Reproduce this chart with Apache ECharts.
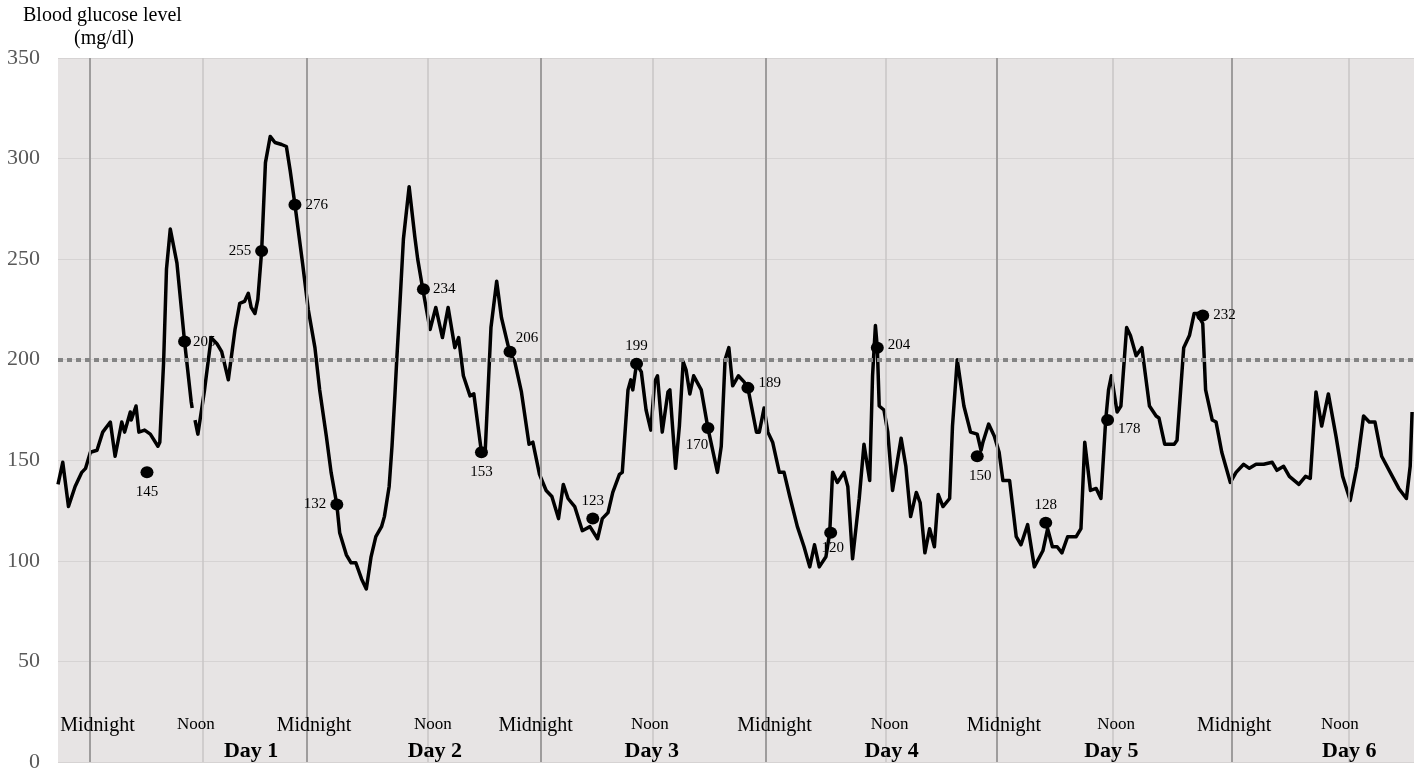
<!DOCTYPE html>
<html>
<head>
<meta charset="utf-8">
<script src="https://cdn.jsdelivr.net/npm/echarts@6/dist/echarts.min.js"></script>
<style>
html,body{margin:0;padding:0;background:#fff;}
#chart{width:1418px;height:773px;}
</style>
</head>
<body>
<div id="chart"></div>
<script>
// ---- DATA ----
// time in hours from start of recording, glucose in mg/dl (null = gap in trace)
const traceReadings = [
[0.0,138],[0.5,149],[1.1,127],[1.8,137],[2.5,144],[2.9,146],[3.4,154],[4.1,155],[4.7,164],[5.5,169],
[6.0,152],[6.7,169],[7.0,164],[7.6,174],[7.7,170],[8.2,177],[8.5,164],[9.1,165],[9.7,163],[10.5,157],
[10.7,159],[11.1,199],[11.4,245],[11.8,265],[12.5,248],[13.3,209],[14.0,179],[14.1,176],[14.25,null],[14.4,170],
[14.7,163],[15.4,185],[16.1,211],[16.7,208],[17.2,204],[17.9,190],[18.6,215],[19.1,228],[19.6,229],[20.0,233],
[20.3,226],[20.7,223],[21.0,230],[21.4,254],[21.8,298],[22.3,311],[22.8,308],[23.5,307],[24.0,306],[24.4,294],
[24.9,277],[25.7,248],[26.3,225],[27.0,206],[27.5,185],[28.2,162],[28.7,144],[29.3,128],[29.6,114],[30.3,103],
[30.8,99],[31.3,99],[31.9,91],[32.4,86],[32.9,102],[33.4,112],[34.0,117],[34.3,122],[34.8,137],[35.1,157],
[35.4,182],[35.6,200],[35.9,225],[36.3,260],[36.9,286],[37.5,261],[37.8,250],[38.3,236],[39.1,215],[39.7,226],
[40.4,211],[41.0,226],[41.7,206],[42.1,211],[42.6,192],[43.3,182],[43.7,183],[44.5,154],[44.9,155],[45.5,216],
[46.1,239],[46.6,221],[47.5,203],[48.0,199],[48.7,184],[49.5,158],[49.9,159],[50.6,143],[51.3,135],[51.9,132],
[52.6,121],[53.1,138],[53.6,131],[54.3,127],[55.1,115],[55.9,117],[56.7,111],[57.2,121],[57.8,124],[58.3,134],
[59.0,143],[59.3,144],[59.9,185],[60.2,190],[60.4,185],[60.8,198],[61.3,194],[61.8,175],[62.3,165],[62.7,189],
[63.0,192],[63.5,164],[64.1,184],[64.3,185],[64.9,146],[65.3,167],[65.7,199],[66.0,195],[66.4,183],[66.8,192],
[67.6,185],[68.3,166],[69.3,144],[69.7,157],[70.1,200],[70.5,206],[70.9,187],[71.5,192],[72.1,189],[72.5,186],
[73.4,164],[73.7,164],[74.2,176],[74.6,164],[75.1,159],[75.8,144],[76.3,144],[76.9,132],[77.7,117],[78.4,107],
[79.0,97],[79.5,108],[80.0,97],[80.7,102],[81.1,114],[81.4,144],[81.9,139],[82.6,144],[83.0,137],[83.5,101],
[84.2,131],[84.7,158],[85.3,140],[85.6,192],[85.9,217],[86.1,206],[86.3,177],[86.8,175],[87.2,164],[87.7,135],
[88.6,161],[89.1,147],[89.6,122],[90.2,134],[90.6,129],[91.1,104],[91.6,116],[92.1,107],[92.5,133],[93.0,127],
[93.7,131],[94.0,167],[94.5,200],[95.2,177],[95.9,164],[96.6,163],[97.0,155],[97.2,159],[97.8,168],[98.4,162],
[98.9,154],[99.3,140],[100.0,140],[100.7,112],[101.2,108],[101.9,118],[102.6,97],[103.5,105],[104.0,116],[104.5,107],
[105.0,107],[105.5,104],[106.1,112],[107.0,112],[107.5,116],[107.9,159],[108.5,135],[109.1,136],[109.6,131],[110.1,170],
[110.4,185],[110.7,192],[111.3,174],[111.7,177],[112.3,216],[112.7,212],[113.3,202],[113.9,206],[114.7,177],[115.4,172],
[115.7,171],[116.3,158],[117.3,158],[117.6,160],[118.3,206],[118.9,212],[119.4,223],[119.7,223],[120.3,218],[120.6,185],
[121.3,170],[121.7,169],[122.3,154],[123.2,139],[123.8,144],[124.6,148],[125.2,146],[125.9,148],[126.7,148],[127.6,149],
[128.1,145],[128.8,147],[129.4,142],[130.4,138],[131.1,142],[131.6,141],[132.2,184],[132.8,167],[133.5,183],[134.3,162],
[135.0,142],[135.8,130],[136.5,147],[137.2,172],[137.8,169],[138.4,169],[139.1,152],[140.0,144],[140.9,136],[141.7,131],
[142.1,147],[142.3,174]
];

// fingerstick readings: time (h), plotted level, printed value
const meterHours  = [9.35, 13.3, 21.4, 24.9, 29.3, 38.4, 44.5, 47.5, 56.2, 60.8, 68.3, 72.5, 81.2, 86.1, 96.6, 103.8, 110.3, 120.3];
const meterLevels = [144, 209, 254, 277, 128, 235, 154, 204, 121, 198, 166, 186, 114, 206, 152, 119, 170, 222];
const meterLabels = ['145','205','255','276','132','234','153','206','123','199','170','189','120','204','150','128','178','232'];

const midnightHours = [3.36, 26.15, 50.72, 74.34, 98.6, 123.4];
const noonHours     = [15.2, 38.85, 62.5, 87.0, 110.8, 135.6];
const midnightLabelHours = [4.15, 26.9, 50.2, 75.3, 99.4, 123.6];
const noonLabelHours     = [14.5, 39.4, 62.2, 87.4, 111.2, 134.7];
const dayLabelHours      = [20.3, 39.6, 62.4, 87.6, 110.7, 135.7];
const dayNames = ['Day 1','Day 2','Day 3','Day 4','Day 5','Day 6'];

const targetLevel = 200;
const yTicks = {min: 0, max: 350, step: 50};
const xRange = {min: 0, max: 142.5};

// ---- CHART ----
const serif = 'Liberation Serif, Times New Roman, serif';
const labelPlacement = [
  {position:'bottom', offset:[0,2]},
  {position:'right', offset:[-2,0]},
  {position:'left', offset:[0,0]},
  {position:'right', offset:[0,0]},
  {position:'left', offset:[0,0]},
  {position:'right', offset:[-1,0]},
  {position:'bottom', offset:[0,2]},
  {position:'top', offset:[17,4]},
  {position:'top', offset:[0,0]},
  {position:'top', offset:[0,0]},
  {position:'bottom', offset:[-11,-1]},
  {position:'right', offset:[0,-5]},
  {position:'bottom', offset:[2,-2]},
  {position:'right', offset:[0,-3]},
  {position:'bottom', offset:[3,2]},
  {position:'top', offset:[0,0]},
  {position:'right', offset:[0,9]},
  {position:'right', offset:[0,0]}
];

const meterData = meterHours.map((h, i) => ({
  value: [h, meterLevels[i]],
  label: Object.assign({show: true, formatter: meterLabels[i]}, labelPlacement[i])
}));

function textSeries(hours, yVal, names, style) {
  return {
    type: 'scatter', symbolSize: 0, silent: true, z: 6,
    itemStyle: {opacity: 1, color: '#000'},
    data: hours.map((h, i) => ({value: [h, yVal], name: names[i]})),
    label: Object.assign({show: true, position: 'inside', formatter: '{b}', fontFamily: serif, color: '#000'}, style)
  };
}

const chart = echarts.init(document.getElementById('chart'), null, {renderer: 'canvas'});
chart.setOption({
  animation: false,
  backgroundColor: '#ffffff',
  title: [
    {text: 'Blood glucose level', left: 18, top: 1, textStyle: {fontFamily: serif, fontSize: 20, fontWeight: 'normal', color: '#000'}},
    {text: '(mg/dl)', left: 69, top: 24, textStyle: {fontFamily: serif, fontSize: 20, fontWeight: 'normal', color: '#000'}}
  ],
  grid: {left: 58, right: 4, top: 58, bottom: 10, show: true, backgroundColor: '#e7e4e4', borderWidth: 0},
  xAxis: {
    type: 'value', min: xRange.min, max: xRange.max,
    axisLine: {show: false}, axisTick: {show: false}, axisLabel: {show: false}, splitLine: {show: false}
  },
  yAxis: {
    type: 'value', min: yTicks.min, max: yTicks.max, interval: yTicks.step,
    axisLine: {show: false}, axisTick: {show: false},
    axisLabel: {fontFamily: serif, fontSize: 22, color: '#595959', margin: 18},
    splitLine: {show: true, lineStyle: {color: '#d6d3d3', width: 1}}
  },
  series: [
    {
      type: 'line', data: [], z: 1, silent: true,
      markLine: {
        silent: true, symbol: 'none', label: {show: false}, animation: false,
        data: [
          ...noonHours.map(h => ({xAxis: h, lineStyle: {color: '#c9c6c6', width: 1.5, type: 'solid'}})),
          ...midnightHours.map(h => ({xAxis: h, lineStyle: {color: '#9e9c9c', width: 2, type: 'solid'}})),
          {yAxis: targetLevel, lineStyle: {color: '#848484', width: 4, type: [5, 4]}}
        ]
      }
    },
    {
      type: 'line', data: traceReadings, z: 3, showSymbol: false, symbol: 'none',
      connectNulls: false, smooth: false,
      lineStyle: {color: '#000', width: 3.5, join: 'round'}
    },
    {
      type: 'scatter', data: meterData, z: 5, symbol: 'circle', symbolSize: [13, 12],
      itemStyle: {color: '#000', opacity: 1},
      label: {fontFamily: serif, fontSize: 15, color: '#000', distance: 4}
    },
    textSeries(midnightLabelHours, 18, midnightLabelHours.map(() => 'Midnight'), {fontSize: 20}),
    textSeries(noonLabelHours, 18.5, noonLabelHours.map(() => 'Noon'), {fontSize: 17}),
    textSeries(dayLabelHours, 5.5, dayNames, {fontSize: 22, fontWeight: 'bold'})
  ]
});
</script>
</body>
</html>
